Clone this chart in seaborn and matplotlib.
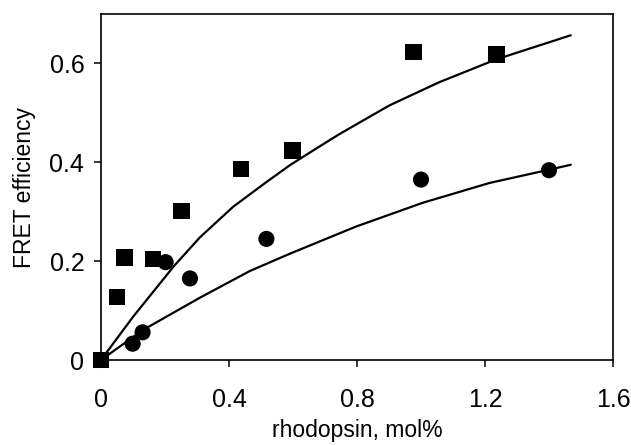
import matplotlib
matplotlib.use('Agg')
import matplotlib.pyplot as plt
import seaborn as sns
import pandas as pd

sq_x = [0.0, 0.05, 0.073, 0.163, 0.252, 0.437, 0.598, 0.977, 1.236]
sq_y = [0.0, 0.128, 0.207, 0.204, 0.302, 0.387, 0.424, 0.623, 0.618]
ci_x = [0.0, 0.099, 0.13, 0.202, 0.278, 0.517, 1.0, 1.40]
ci_y = [0.0, 0.033, 0.056, 0.198, 0.165, 0.245, 0.365, 0.384]

# fitted curves
fit_up_x = [0.0, 0.101, 0.228, 0.309, 0.413, 0.517, 0.59, 0.673, 0.745,
            0.901, 1.057, 1.234, 1.468]
fit_up_y = [0.0, 0.088, 0.19, 0.248, 0.31, 0.36, 0.394, 0.428, 0.457,
            0.515, 0.562, 0.608, 0.657]
fit_lo_x = [0.0, 0.132, 0.309, 0.465, 0.59, 0.797, 1.005, 1.213, 1.40, 1.468]
fit_lo_y = [0.0, 0.061, 0.126, 0.18, 0.215, 0.270, 0.318, 0.358, 0.385, 0.395]

x_ticks = [0, 0.4, 0.8, 1.2, 1.6]
x_labels = ['0', '0.4', '0.8', '1.2', '1.6']
y_ticks = [0, 0.2, 0.4, 0.6]
y_labels = ['0', '0.2', '0.4', '0.6']

sns.set_style('ticks')
plt.rcParams['font.family'] = ['Liberation Sans', 'DejaVu Sans']

fig = plt.figure(figsize=(6.31, 4.45), dpi=100)
ax = fig.add_axes([0.160, 0.191, 0.8115, 0.7775])

sns.lineplot(data=pd.DataFrame({'x': fit_up_x, 'y': fit_up_y}), x='x', y='y',
             color='black', linewidth=1.6, sort=False, ax=ax)
sns.lineplot(data=pd.DataFrame({'x': fit_lo_x, 'y': fit_lo_y}), x='x', y='y',
             color='black', linewidth=1.6, sort=False, ax=ax)
sns.scatterplot(x=ci_x, y=ci_y, marker='o', s=135, color='black',
                edgecolor='none', ax=ax, clip_on=False, zorder=3)
sns.scatterplot(x=sq_x, y=sq_y, marker='s', s=140, color='black',
                edgecolor='none', ax=ax, clip_on=False, zorder=4)

ax.set_xlim(0, 1.6)
ax.set_ylim(0, 0.7)
ax.set_xticks(x_ticks)
ax.set_xticklabels(x_labels)
ax.set_yticks(y_ticks)
ax.set_yticklabels(y_labels)
ax.tick_params(direction='out', length=5, width=1.1, labelsize=18, colors='black')
ax.tick_params(axis='x', pad=15)
ax.tick_params(axis='y', pad=7)
for s in ax.spines.values():
    s.set_visible(True)
    s.set_linewidth(1.2)
    s.set_color('black')
ax.set_xlabel('rhodopsin, mol%', fontsize=16.5, labelpad=5, color='black')
ax.set_ylabel('FRET efficiency', fontsize=16.5, labelpad=10, color='black')

fig.savefig('out.png', dpi=100)
